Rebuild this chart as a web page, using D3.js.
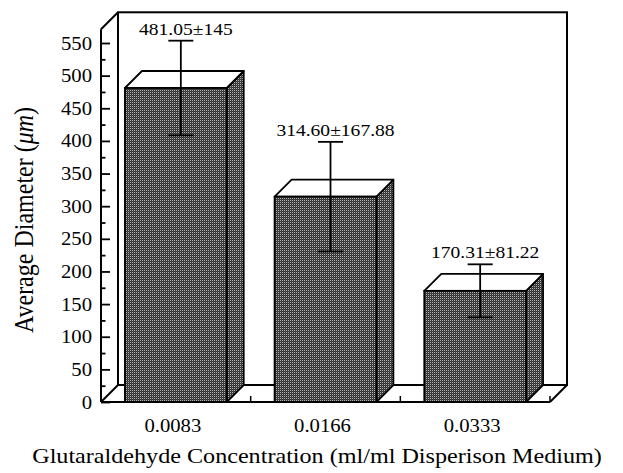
<!DOCTYPE html>
<html>
<head>
<meta charset="utf-8">
<script src="https://cdn.jsdelivr.net/npm/d3@7"></script>
<style>
  html, body { margin: 0; padding: 0; background: #fff; }
  svg { display: block; }
  text { font-family: "Liberation Serif", "Times New Roman", serif; fill: #000; }
</style>
</head>
<body>
<svg id="chart" width="623" height="473"></svg>
<script>
// Data
const categories = ["0.0083", "0.0166", "0.0333"];
const means = [481.05, 314.60, 170.31];
const errors = [145, 167.88, 81.22];
const errorLabels = ["481.05\u00b1145", "314.60\u00b1167.88", "170.31\u00b181.22"];
const yMajorTicks = [0, 50, 100, 150, 200, 250, 300, 350, 400, 450, 500, 550];
const yMinorTicks = [25, 75, 125, 175, 225, 275, 325, 375, 425, 475, 525];

// Layout
const svg = d3.select("#chart");
const SX = 1.15;               // horizontal stretch applied to lettering
const depthX = 17, depthY = -17;
const yTop = 571;              // value at top of the front axis
const x0 = 101, x1 = 550;      // front floor extent

const y = d3.scaleLinear().domain([0, 550]).range([402, 43]);
const x = d3.scaleBand().domain(categories).range([x0, x1]).padding(0);
const barW = x.bandwidth() * 0.68;
const yBase = y(0);
const yFrameTop = y(yTop);

// Halftone fill for the bars
const defs = svg.append("defs");
const pat = defs.append("pattern").attr("id", "dots")
  .attr("patternUnits", "userSpaceOnUse").attr("width", 2).attr("height", 2);
pat.append("rect").attr("width", 2).attr("height", 2).attr("fill", "#303030");
pat.append("rect").attr("x", 0).attr("y", 0).attr("width", 1).attr("height", 1).attr("fill", "#b8b8b8");
pat.append("rect").attr("x", 1).attr("y", 1).attr("width", 1).attr("height", 1).attr("fill", "#474747");

const frame = svg.append("g").attr("fill", "none").attr("stroke", "#000").attr("stroke-width", 2);

// Back wall
frame.append("rect")
  .attr("x", x0 + depthX).attr("y", yFrameTop + depthY)
  .attr("width", x1 - x0).attr("height", (yBase + depthY) - (yFrameTop + depthY))
  .attr("fill", "#fff");
// Left wall top edge
frame.append("line")
  .attr("x1", x0).attr("y1", yFrameTop).attr("x2", x0 + depthX).attr("y2", yFrameTop + depthY);
// Floor: left and right depth edges
frame.append("line")
  .attr("x1", x0).attr("y1", yBase).attr("x2", x0 + depthX).attr("y2", yBase + depthY);
frame.append("line")
  .attr("x1", x1).attr("y1", yBase).attr("x2", x1 + depthX).attr("y2", yBase + depthY);

// Bars (front, side, top faces)
const bars = svg.append("g").selectAll("g.bar")
  .data(categories.map((c, i) => ({ c, v: means[i], e: errors[i], label: errorLabels[i] })))
  .join("g").attr("class", "bar");

bars.each(function (d) {
  const g = d3.select(this);
  const bx0 = x(d.c) + (x.bandwidth() - barW) / 2;
  const bx1 = bx0 + barW;
  const yv = y(d.v);
  g.append("path")
    .attr("d", `M${bx1},${yv}L${bx1 + depthX},${yv + depthY}L${bx1 + depthX},${yBase + depthY}L${bx1},${yBase}Z`)
    .attr("fill", "url(#dots)").attr("stroke", "#000").attr("stroke-width", 1.8)
    .attr("stroke-linejoin", "round");
  g.append("path")
    .attr("d", `M${bx0},${yv}L${bx0 + depthX},${yv + depthY}L${bx1 + depthX},${yv + depthY}L${bx1},${yv}Z`)
    .attr("fill", "#fff").attr("stroke", "#000").attr("stroke-width", 1.8)
    .attr("stroke-linejoin", "round");
  g.append("rect")
    .attr("x", bx0).attr("y", yv).attr("width", barW).attr("height", yBase - yv)
    .attr("fill", "url(#dots)").attr("stroke", "#000").attr("stroke-width", 1.8);
});

// Front floor edge and front axis line
const front = svg.append("g").attr("stroke", "#000").attr("stroke-width", 2).attr("fill", "none");
front.append("line").attr("x1", x0).attr("y1", yBase).attr("x2", x1).attr("y2", yBase);
front.append("line").attr("x1", x0).attr("y1", yBase).attr("x2", x0).attr("y2", yFrameTop);

// Category boundary ticks on the floor edge
const boundaries = categories.map(c => x(c) + x.bandwidth());
front.selectAll("line.xtick").data(boundaries).join("line").attr("class", "xtick")
  .attr("x1", d => d).attr("x2", d => d).attr("y1", yBase).attr("y2", yBase - 6)
  .attr("stroke-width", 1.5);

// Y axis ticks (inward) and labels
const axMajor = svg.append("g").attr("transform", `translate(${x0},0)`)
  .call(d3.axisRight(y).tickValues(yMajorTicks).tickSize(9).tickFormat(""));
const axMinor = svg.append("g").attr("transform", `translate(${x0},0)`)
  .call(d3.axisRight(y).tickValues(yMinorTicks).tickSize(4.5).tickFormat(""));
[axMajor, axMinor].forEach(a => {
  a.select(".domain").remove();
  a.selectAll("line").attr("stroke", "#000").attr("stroke-width", 1.8);
});
const axLabels = svg.append("g").attr("transform", `translate(${x0},0)`)
  .call(d3.axisLeft(y).tickValues(yMajorTicks).tickSize(0).tickPadding(0));
axLabels.select(".domain").remove();
axLabels.selectAll("text")
  .attr("x", null).attr("dy", null)
  .attr("transform", `translate(-9,6) scale(${SX},1)`)
  .attr("font-family", "Liberation Serif").attr("font-size", 18)
  .attr("fill", "#000");

// Error bars with value labels
const capHalf = 12.5;
bars.each(function (d) {
  const g = d3.select(this);
  const cx = x(d.c) + x.bandwidth() / 2 + 5;
  const yHi = y(d.v + d.e / 2), yLo = y(d.v - d.e / 2);
  const eg = g.append("g").attr("stroke", "#000").attr("stroke-width", 1.8);
  eg.append("line").attr("x1", cx).attr("x2", cx).attr("y1", yHi).attr("y2", yLo);
  eg.append("line").attr("x1", cx - capHalf).attr("x2", cx + capHalf).attr("y1", yHi).attr("y2", yHi);
  eg.append("line").attr("x1", cx - capHalf).attr("x2", cx + capHalf).attr("y1", yLo).attr("y2", yLo);
  g.append("text")
    .attr("transform", `translate(${cx + 5},${yHi - 6}) scale(${SX},1)`)
    .attr("text-anchor", "middle").attr("font-size", 17)
    .text(d.label);
});

// Category labels
svg.append("g").selectAll("text").data(categories).join("text")
  .attr("transform", d => `translate(${x(d) + x.bandwidth() / 2 - 3},432) scale(${SX},1)`)
  .attr("text-anchor", "middle").attr("font-size", 18)
  .text(d => d);

// Axis titles
svg.append("text")
  .attr("transform", `translate(317,463) scale(${SX},1)`)
  .attr("text-anchor", "middle").attr("font-size", 21)
  .text("Glutaraldehyde Concentration (ml/ml Disperison Medium)");

const yt = svg.append("text")
  .attr("transform", `translate(33,220) scale(${SX},1) rotate(-90)`)
  .attr("text-anchor", "middle").attr("font-size", 24);
yt.append("tspan").text("Average Diameter (");
yt.append("tspan").attr("font-style", "italic").text("\u03bcm");
yt.append("tspan").text(")");
</script>
</body>
</html>
